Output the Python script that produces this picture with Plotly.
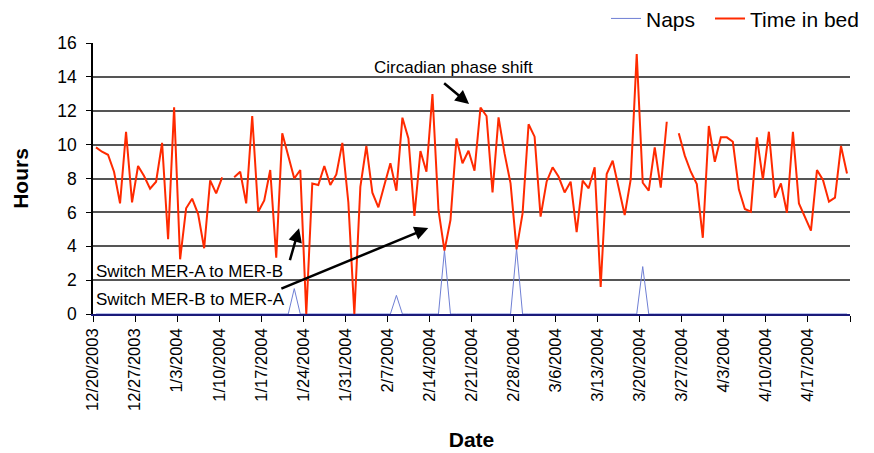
import pandas as pd
import plotly.graph_objects as go

start = pd.Timestamp("2003-12-20")

# Time in bed (hours), one value per day starting 12/20/2003 (None = missing)
time_in_bed = [
    9.84, 9.58, 9.40, 8.4, 6.53, 10.76, 6.59, 8.74, 8.15, 7.4,
    7.81, 10.1, 4.41, 12.2, 3.23, 6.24, 6.81, 5.9, 3.88, 7.89,
    7.12, 8.07, None, 8.07, 8.4, 6.53, 11.69, 6.04, 6.7, 8.5,
    3.33, 10.67, 9.33, 8.0, 8.5, 0.0, 7.71, 7.62, 8.74, 7.62,
    8.24, 10.1, 6.6, 0.0, 7.5, 9.92, 7.16, 6.3, 7.62, 8.9,
    7.28, 11.59, 10.37, 5.79, 9.62, 8.4, 12.99, 6.14, 3.74, 5.55,
    10.37, 8.9, 9.64, 8.46, 12.18, 11.69, 7.18, 11.61, 9.48, 7.71,
    3.82, 5.94, 11.2, 10.47, 5.75, 7.81, 8.66, 8.1, 7.18, 7.81,
    4.84, 7.87, 7.42, 8.66, 1.6, 8.26, 9.05, 7.5, 5.84, 7.95,
    15.35, 7.75, 7.28, 9.84, 7.46, 11.35, None, 10.67, 9.35, 8.4,
    7.67, 4.5, 11.1, 8.99, 10.43, 10.43, 10.17, 7.36, 6.2, 6.04,
    10.43, 7.95, 10.76, 6.87, 7.71, 5.98, 10.76, 6.53, 5.75, 4.92,
    8.5, 7.91, 6.63, 6.87, 9.92, 8.3,
]

# Naps (hours) per day
naps = [0.0] * len(time_in_bed)
nap_days = [33, 50, 58, 70, 91]
nap_hours = [1.5, 1.1, 3.75, 3.85, 2.8]
for d_, h_ in zip(nap_days, nap_hours):
    naps[d_] = h_

tick_labels = [
    "12/20/2003", "12/27/2003", "1/3/2004", "1/10/2004", "1/17/2004",
    "1/24/2004", "1/31/2004", "2/7/2004", "2/14/2004", "2/21/2004",
    "2/28/2004", "3/6/2004", "3/13/2004", "3/20/2004", "3/27/2004",
    "4/3/2004", "4/10/2004", "4/17/2004", "",
]

dates = [start + pd.Timedelta(days=i) + pd.Timedelta(hours=12) for i in range(len(time_in_bed))]
tickvals = [start + pd.Timedelta(days=7 * k) for k in range(len(tick_labels))]

FONT = "Arial, Liberation Sans, sans-serif"

fig = go.Figure()
fig.add_trace(go.Scatter(x=dates, y=naps, mode="lines", name="Naps", legend="legend",
                         line=dict(color="#6f7fd4", width=1)))
fig.add_trace(go.Scatter(x=dates, y=time_in_bed, mode="lines", name="Time in bed",
                         legend="legend2",
                         line=dict(color="#ff2a00", width=2), connectgaps=False))


def d(days):
    return start + pd.Timedelta(days=days)


annotations = [
    dict(x=d(60.0), y=14.55, text="Circadian phase shift", showarrow=False,
         xanchor="center", yanchor="middle", font=dict(size=17, color="black", family=FONT)),
    dict(x=d(62.6), y=12.4, ax=d(58.2), ay=13.7, axref="x", ayref="y", text="",
         showarrow=True, arrowhead=2, arrowsize=1.1, arrowwidth=2.5, arrowcolor="black"),
    dict(x=d(0.2), y=2.5, text="Switch MER-A to MER-B", showarrow=False,
         xanchor="left", yanchor="middle", font=dict(size=17, color="black", family=FONT)),
    dict(x=d(0.2), y=0.83, text="Switch MER-B to MER-A", showarrow=False,
         xanchor="left", yanchor="middle", font=dict(size=17, color="black", family=FONT)),
    dict(x=d(34.3), y=5.06, ax=d(32.7), ay=3.09, axref="x", ayref="y", text="",
         showarrow=True, arrowhead=2, arrowsize=1.1, arrowwidth=2.5, arrowcolor="black"),
    dict(x=d(55.8), y=5.08, ax=d(31.1), ay=1.46, axref="x", ayref="y", text="",
         showarrow=True, arrowhead=2, arrowsize=1.1, arrowwidth=2.5, arrowcolor="black"),
]

legend_style = dict(orientation="h", xanchor="left", y=1.165, yanchor="top",
                    xref="container", yref="paper",
                    font=dict(size=21), bgcolor="rgba(0,0,0,0)", borderwidth=0)

# The page adds an 8px body margin, so the figure is sized to fill the rest of the window
fig.update_layout(
    width=866, height=445,
    margin=dict(l=85, r=24, t=35, b=139, autoexpand=False),
    paper_bgcolor="white", plot_bgcolor="white",
    font=dict(family=FONT, size=16, color="black"),
    showlegend=True,
    legend=dict(x=598 / 866, **legend_style),
    legend2=dict(x=702 / 866, **legend_style),
    annotations=annotations,
)

fig.update_xaxes(
    range=[start, start + pd.Timedelta(days=126)],
    tickmode="array", tickvals=tickvals, ticktext=tick_labels,
    tickangle=-90, ticks="outside", ticklen=6, tickcolor="black",
    showline=True, linecolor="#1a1a7a", linewidth=1.5,
    showgrid=False, zeroline=False, automargin=False,
    tickfont=dict(size=16.5),
    title=dict(text="<b>Date</b>", font=dict(size=21), standoff=22),
)
fig.update_yaxes(
    range=[0, 16], dtick=2, tick0=0,
    ticks="outside", ticklen=5, tickcolor="black",
    showline=True, linecolor="black", linewidth=1.5,
    showgrid=True, gridcolor="#555555", gridwidth=1.5,
    zeroline=False, automargin=False, ticklabelstandoff=6,
    tickfont=dict(size=17.5),
    title=dict(text="<b>Hours</b>", font=dict(size=21), standoff=23),
)

fig.write_html("out.html")
